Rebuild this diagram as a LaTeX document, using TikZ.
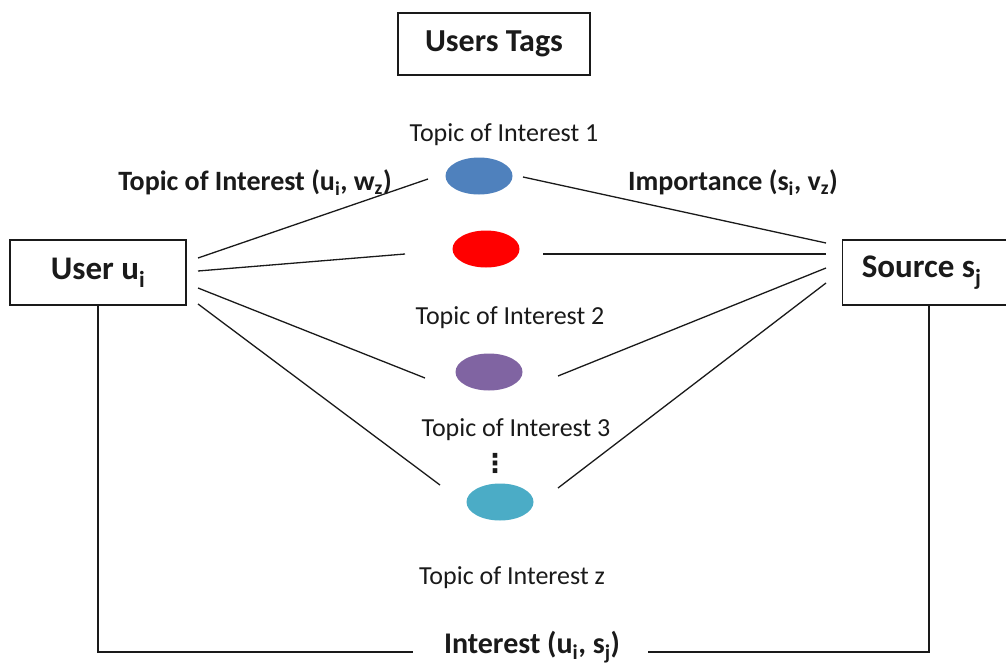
\documentclass[tikz,border=0pt]{standalone}
\usepackage{fontspec}
\setmainfont{Carlito}
\newfontfamily\symfont{DejaVu Sans}
\usetikzlibrary{shapes.geometric}
\definecolor{tblue}{HTML}{4F81BD}
\definecolor{tred}{HTML}{FF0000}
\definecolor{tpurple}{HTML}{8064A2}
\definecolor{tcyan}{HTML}{4BACC6}
\definecolor{ink}{HTML}{1A1A1A}
\begin{document}
\begin{tikzpicture}[x=1pt,y=-1pt,
  box/.style={draw=ink, line width=1.4pt, inner sep=0pt, text=ink,
    font=\bfseries\fontsize{33}{36}\selectfont},
  topic/.style={ellipse, inner sep=0pt, minimum width=67pt, minimum height=37pt},
  conn/.style={draw=ink, line width=1.3pt},
  lab/.style={text=ink, inner sep=0pt, font=\fontsize{26}{30}\selectfont},
  blab/.style={text=ink, inner sep=0pt, font=\bfseries\fontsize{28}{32}\selectfont}]
\useasboundingbox (0,0) rectangle (1006,666);
\fill[white] (0,0) rectangle (1006,666);

% boxes
\node[box, minimum width=192pt, minimum height=62pt, font=\bfseries\fontsize{32}{35}\selectfont] (tags) at (494,44) {Users Tags};
\node[box, minimum width=176pt, minimum height=65pt] (user) at (98,272.5) {User u\textsubscript{i}};
\node[box, minimum width=170pt, minimum height=65pt, anchor=west] (source) at (842,272.5) {\hspace*{-12pt}Source s\textsubscript{j}};

% topic ellipses
\node[topic, fill=tblue] (t1) at (479,176) {};
\node[topic, fill=tred] (t2) at (486,249) {};
\node[topic, fill=tpurple] (t3) at (489,372) {};
\node[topic, fill=tcyan] (tz) at (500,502) {};

% labels
\node[lab] (l1) at (504,135) {Topic of Interest 1};
\node[lab] (l2) at (510,318) {Topic of Interest 2};
\node[lab] (l3) at (516,430) {Topic of Interest 3};
\node[lab] (lz) at (512,578) {Topic of Interest z};
\node[text=ink, inner sep=0pt, font=\symfont\bfseries\fontsize{26}{30}\selectfont] (dots) at (495,463) {⋮};
\node[blab] (lw) at (255,183) {Topic of Interest (u\textsubscript{i}, w\textsubscript{z})};
\node[blab] (lv) at (733,183) {Importance (s\textsubscript{i}, v\textsubscript{z})};
\node[blab, font=\bfseries\fontsize{30}{34}\selectfont] (lint) at (532,647) {Interest (u\textsubscript{i}, s\textsubscript{j})};

% connector end points
\coordinate (ua) at (198,258);
\coordinate (ub) at (198,271);
\coordinate (uc) at (198,288);
\coordinate (ud) at (198,304);
\coordinate (a1) at (428,179);
\coordinate (a2) at (405,254);
\coordinate (a3) at (425,378);
\coordinate (a4) at (440,485);
\coordinate (b1) at (523,177);
\coordinate (b2) at (543,254);
\coordinate (b3) at (558,376);
\coordinate (b4) at (558,488);
\coordinate (sa) at (826,243);
\coordinate (sb) at (826,254);
\coordinate (sc) at (826,268);
\coordinate (sd) at (826,283);
\coordinate (il) at (413,652);
\coordinate (ir) at (648,652);

\draw[conn] (ua) -- (a1);
\draw[conn] (ub) -- (a2);
\draw[conn] (uc) -- (a3);
\draw[conn] (ud) -- (a4);
\draw[conn] (b1) -- (sa);
\draw[conn] (b2) -- (sb);
\draw[conn] (b3) -- (sc);
\draw[conn] (b4) -- (sd);

\draw[conn] (user.south) |- (il);
\draw[conn] (ir) -| (source.south -| 929,0);
\end{tikzpicture}
\end{document}
